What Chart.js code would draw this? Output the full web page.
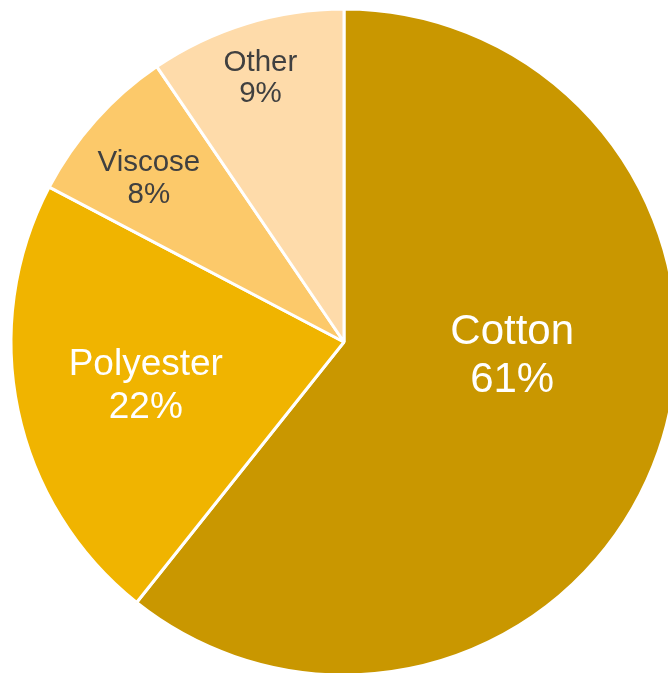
<!DOCTYPE html>
<html>
<head>
<meta charset="utf-8">
<script src="https://cdn.jsdelivr.net/npm/chart.js@4"></script>
<style>
  html, body { margin: 0; padding: 0; background: #fff; overflow: hidden; }
  #wrap { position: absolute; left: 0; top: 0; width: 688px; height: 684px; }
</style>
</head>
<body>
<div id="wrap"><canvas id="chart" width="688" height="684"></canvas></div>
<script>
const labels = ["Cotton", "Polyester", "Viscose", "Other"];
// slice sizes, printed labels as rounded
const sliceValues = [60.7, 22.0, 7.8, 9.5];
const shares = [61, 22, 8, 9];
const colors = ["#C99700", "#F0B400", "#FCC96A", "#FEDBAA"];

// label placement: fraction along the slice, fraction of radius, small nudge, font size, line gap, colour
const labelStyle = [
  { along: 0.435, dist: 0.51, dx: -1, dy: -1, size: 42, gap: 48, color: "#fff" },
  { along: 0.48, dist: 0.612, dx: 0, dy: -3, size: 37, gap: 43, color: "#fff" },
  { along: 0.39, dist: 0.762, dx: 3, dy: -5, size: 29.5, gap: 32, color: "#404040" },
  { along: 0.46, dist: 0.83, dx: 4, dy: -1.5, size: 29.5, gap: 31, color: "#404040" },
];

const sliceLabels = {
  id: "sliceLabels",
  afterDatasetsDraw(chart) {
    const { ctx } = chart;
    const meta = chart.getDatasetMeta(0);
    ctx.save();
    ctx.textAlign = "center";
    ctx.textBaseline = "middle";
    meta.data.forEach((arc, i) => {
      const s = labelStyle[i];
      const a = arc.startAngle + (arc.endAngle - arc.startAngle) * s.along;
      const r = arc.outerRadius * s.dist;
      const x = arc.x + Math.cos(a) * r + s.dx;
      const y = arc.y + Math.sin(a) * r + s.dy;
      ctx.fillStyle = s.color;
      ctx.font = `${s.size}px "Liberation Sans", Arial, sans-serif`;
      ctx.fillText(labels[i], x, y - s.gap / 2);
      ctx.fillText(shares[i] + "%", x, y + s.gap / 2);
    });
    ctx.restore();
  },
};

new Chart(document.getElementById("chart"), {
  type: "pie",
  data: {
    labels,
    datasets: [{
      data: sliceValues,
      backgroundColor: colors,
      borderColor: "#fff",
      borderWidth: 3,
    }],
  },
  options: {
    responsive: false,
    animation: false,
    radius: 333,
    layout: { padding: 0 },
    plugins: { legend: { display: false }, tooltip: { enabled: false } },
  },
  plugins: [sliceLabels],
});
</script>
</body>
</html>
